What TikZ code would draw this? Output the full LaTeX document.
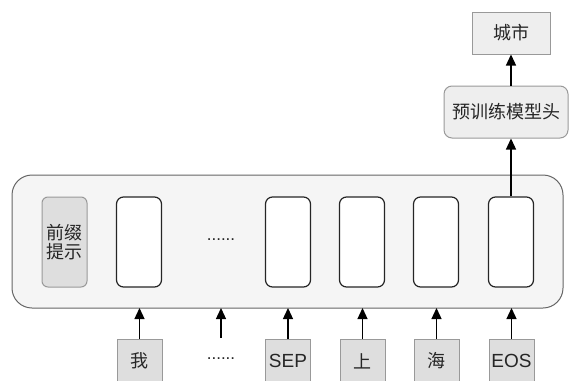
\documentclass[tikz,border=0pt]{standalone}
\usepackage{fontspec}
\setmainfont{Liberation Sans}
\newfontfamily\cjk{Noto Sans CJK SC}
\usetikzlibrary{arrows.meta}
\definecolor{panelfill}{HTML}{F5F5F5}
\definecolor{paneldraw}{HTML}{666666}
\definecolor{greyfill}{HTML}{DEDEDE}
\definecolor{lightfill}{HTML}{EEEEEE}
\definecolor{greydraw}{HTML}{999999}
\tikzset{
  lbl/.style={font=\cjk\fontsize{18}{22}\selectfont, text=black!85},
  latin/.style={font=\fontsize{19}{22}\selectfont, text=black!85},
  panel/.style={draw=paneldraw, fill=panelfill, line width=1pt, rounded corners=20pt},
  slot/.style={draw=black!85, fill=white, line width=1.2pt, rounded corners=7pt,
    minimum width=45pt, minimum height=90pt, inner sep=0pt},
  prefixbox/.style={draw=greydraw, fill=greyfill, line width=1pt, rounded corners=6pt,
    minimum width=45pt, minimum height=90pt, inner sep=0pt, lbl, align=center},
  tokbox/.style={draw=greydraw, fill=greyfill, line width=1pt,
    minimum width=45pt, minimum height=44pt, inner sep=0pt, lbl},
  headbox/.style={draw=greydraw, fill=lightfill, line width=1pt, rounded corners=8pt,
    minimum width=124pt, minimum height=52pt, inner sep=0pt, lbl},
  outbox/.style={draw=greydraw, fill=lightfill, line width=1pt,
    minimum width=78pt, minimum height=42pt, inner sep=0pt, lbl},
  dots/.style={font=\fontsize{17}{20}\selectfont, text=black!85},
  arr/.style={-{Triangle[length=11pt,width=10pt]}, line width=1.3pt, black},
}
\begin{document}
\begin{tikzpicture}[x=1pt,y=-1pt]
\useasboundingbox (0,0) rectangle (569,380);

% encoder panel
\draw[panel] (12,175) rectangle (563,308);
\coordinate (panelbot) at (0,308);

% prefix prompt and hidden-state slots
\node[prefixbox] (prefix) at (64.5,242) {前缀\\[-3pt]提示};
\node[slot] (s1) at (139,242) {};
\node[dots] (sdots) at (221,240) {......};
\node[slot] (s2) at (288,242) {};
\node[slot] (s3) at (362,242) {};
\node[slot] (s4) at (436,242) {};
\node[slot] (s5) at (511,242) {};

% input tokens
\node[tokbox] (t1) at (139.5,361) {我};
\node[dots] (tdots) at (221,359) {......};
\node[tokbox, latin] (t2) at (288,361) {SEP};
\node[tokbox] (t3) at (362.5,361) {上};
\node[tokbox] (t4) at (436.5,361) {海};
\node[tokbox, latin] (t5) at (511.5,361) {EOS};
\coordinate (dstart) at (221,338);

% token arrows into the panel
\draw[arr] (t1.north) -- (t1.north |- panelbot);
\draw[arr] (dstart) -- (dstart |- panelbot);
\draw[arr] (t2.north) -- (t2.north |- panelbot);
\draw[arr] (t3.north) -- (t3.north |- panelbot);
\draw[arr] (t4.north) -- (t4.north |- panelbot);
\draw[arr] (t5.north) -- (t5.north |- panelbot);

% head and output
\node[headbox] (head) at (506,112) {预训练模型头};
\node[outbox] (city) at (511,33) {城市};
\draw[arr] (s5.north) -- (s5.north |- head.south);
\draw[arr] (head.north -| city.south) -- (city.south);
\end{tikzpicture}
\end{document}
